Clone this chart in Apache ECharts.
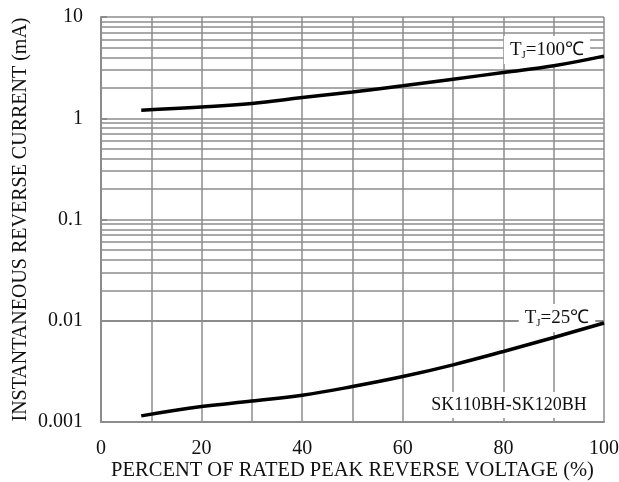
<!DOCTYPE html>
<html>
<head>
<meta charset="utf-8">
<script src="https://cdn.jsdelivr.net/npm/echarts@6/dist/echarts.min.js"></script>
<style>
html,body{margin:0;padding:0;background:#fff;}
#c{width:619px;height:482px;}
</style>
</head>
<body>
<div id="c"></div>
<script>
// ---- data ----
var xValues = [8, 20, 30, 40, 50, 60, 70, 80, 90, 100];
var current100C = [1.20, 1.29, 1.40, 1.60, 1.82, 2.09, 2.43, 2.83, 3.30, 4.11];
var current25C = [0.00115, 0.00142, 0.00161, 0.00184, 0.00224, 0.00281, 0.00367, 0.00497, 0.00684, 0.0095];
var yTickLabels = ['0.001', '0.01', '0.1', '1', '10'];
var xTickLabels = ['0', '20', '40', '60', '80', '100'];
var label100 = '=100℃';
var label25 = '=25℃';
var partLabel = 'SK110BH-SK120BH';

function pairs(xs, ys) { return xs.map(function (x, i) { return [x, ys[i]]; }); }

// minor log gridlines 2..9 in each decade
var minorLines = [];
[0.001, 0.01, 0.1, 1].forEach(function (d) {
  for (var k = 2; k <= 9; k++) minorLines.push({ yAxis: +(d * k).toPrecision(3) });
});

var FONT = 'Liberation Serif';
var GRID = '#8c8c8c';

var chart = echarts.init(document.getElementById('c'), null, { renderer: 'canvas' });
chart.setOption({
  animation: false,
  backgroundColor: '#fff',
  grid: { left: 101, top: 17, right: 15, bottom: 60, containLabel: false, outerBoundsMode: 'none' },
  xAxis: {
    type: 'value', min: 0, max: 100, interval: 10,
    name: 'PERCENT OF RATED PEAK REVERSE VOLTAGE (%)',
    nameLocation: 'middle', nameGap: 38, nameMoveOverlap: false,
    nameTextStyle: { fontFamily: FONT, fontSize: 20.5, color: '#111' },
    axisLine: { show: true, lineStyle: { color: GRID, width: 2 } },
    axisTick: { show: false },
    splitLine: { show: true, lineStyle: { color: GRID, width: 1.5 } },
    axisLabel: {
      fontFamily: FONT, fontSize: 20, color: '#111', margin: 17,
      formatter: function (v) {
        var i = xTickLabels.indexOf(String(v));
        return i >= 0 ? xTickLabels[i] : '';
      }
    }
  },
  yAxis: {
    type: 'log', logBase: 10, min: 0.001, max: 10,
    name: 'INSTANTANEOUS REVERSE CURRENT (mA)',
    nameLocation: 'middle', nameGap: 70, nameRotate: 90, nameMoveOverlap: false,
    nameTextStyle: { fontFamily: FONT, fontSize: 20, color: '#111' },
    axisLine: { show: true, lineStyle: { color: GRID, width: 2 } },
    axisTick: { show: true, inside: true, length: 6, lineStyle: { color: GRID, width: 2 } },
    splitLine: { show: true, lineStyle: { color: GRID, width: 1.5 } },
    axisLabel: {
      fontFamily: FONT, fontSize: 20, color: '#111', margin: 18, padding: [6, 0, 0, 0],
      formatter: function (v) {
        var e = Math.round(Math.log10(v)) + 3;
        return yTickLabels[e] !== undefined ? yTickLabels[e] : '';
      }
    }
  },
  series: [
    {
      type: 'line', data: [], z: 1, silent: true,
      markLine: {
        z: 1, silent: true, symbol: 'none', animation: false,
        label: { show: false },
        lineStyle: { color: GRID, width: 1.5, type: 'solid' },
        data: minorLines
      }
    },
    {
      name: 'TJ=100', type: 'line', data: pairs(xValues, current100C),
      smooth: 0.4, showSymbol: false, z: 5,
      lineStyle: { color: '#000', width: 3.5 }
    },
    {
      name: 'TJ=25', type: 'line', data: pairs(xValues, current25C),
      smooth: 0.4, showSymbol: false, z: 5,
      lineStyle: { color: '#000', width: 3.5 }
    }
  ],
  graphic: [
    {
      type: 'text', x: 547, y: 50, z: 3,
      style: {
        text: '{t|T}{s|J}{t|' + label100 + '}',
        align: 'center', verticalAlign: 'middle',
        backgroundColor: '#fff', padding: [3, 6, 3, 6],
        rich: {
          t: { fontFamily: FONT, fontSize: 19, fill: '#111', color: '#111', lineHeight: 22 },
          s: { fontFamily: FONT, fontSize: 11, fill: '#111', color: '#111', verticalAlign: 'bottom', lineHeight: 14 }
        }
      }
    },
    {
      type: 'text', x: 557, y: 318, z: 3,
      style: {
        text: '{t|T}{s|J}{t|' + label25 + '}',
        align: 'center', verticalAlign: 'middle',
        backgroundColor: '#fff', padding: [3, 6, 3, 6],
        rich: {
          t: { fontFamily: FONT, fontSize: 19, fill: '#111', color: '#111', lineHeight: 22 },
          s: { fontFamily: FONT, fontSize: 11, fill: '#111', color: '#111', verticalAlign: 'bottom', lineHeight: 14 }
        }
      }
    },
    {
      type: 'text', x: 509, y: 405, z: 3,
      style: {
        text: partLabel, font: '18px "Liberation Serif"', fill: '#111',
        align: 'center', verticalAlign: 'middle',
        backgroundColor: '#fff', padding: [4, 6, 4, 6]
      }
    }
  ]
});
</script>
</body>
</html>
